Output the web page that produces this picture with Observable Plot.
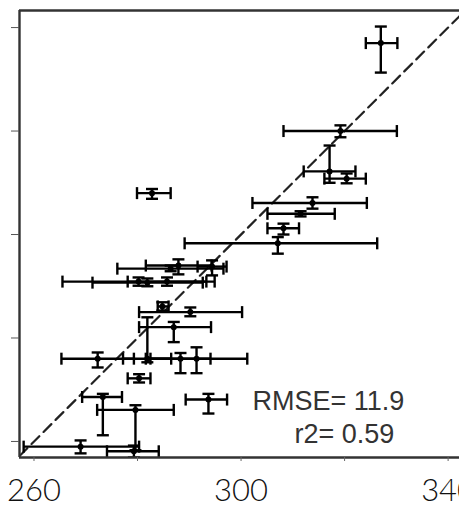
<!DOCTYPE html>
<html><head><meta charset="utf-8">
<script src="https://cdn.jsdelivr.net/npm/d3@7"></script>
<script src="https://cdn.jsdelivr.net/npm/@observablehq/plot@0.6"></script>
<style>html,body{margin:0;padding:0;background:#fff;overflow:hidden}</style>
</head><body><div id="chart"></div>
<script>
// observed (x) with range, modelled (y) with range
const xVal = [327.0,319.2,317.1,320.4,313.8,311.5,308.2,307.1,282.8,287.9,294.4,286.4,280.2,281.9,285.7,284.8,290.2,287.0,272.3,281.9,288.3,291.4,280.3,273.3,279.6,293.7,269.0,279.3];
const xLo  = [324.1,308.2,312.1,316.1,302.2,305.1,305.1,289.1,279.9,281.6,291.6,276.1,265.5,271.3,278.1,283.9,280.3,280.3,265.3,277.2,282.5,281.6,278.1,269.3,272.2,289.3,258.0,274.1];
const xHi  = [330.2,330.1,322.1,324.1,324.3,318.1,311.2,326.3,286.4,294.3,297.2,296.6,294.9,292.6,293.3,286.0,300.2,294.2,279.3,286.5,294.1,301.2,282.5,277.0,287.0,297.3,280.3,284.1];
const yVal = [337.0,320.0,312.2,310.8,306.1,304.0,301.2,298.3,308.0,294.0,293.8,293.4,290.9,290.7,290.9,286.1,285.0,282.1,276.0,276.0,276.0,276.0,272.2,268.6,266.1,268.1,259.0,258.1];
const yLo  = [331.3,318.8,310.0,309.9,305.0,303.5,300.0,296.3,306.9,292.3,292.1,292.9,290.1,290.0,290.1,285.3,284.2,279.2,274.3,275.3,273.2,273.2,271.4,261.2,258.3,265.4,257.7,256.9];
const yHi  = [340.2,321.1,317.2,311.8,307.2,304.5,302.1,299.5,308.8,295.2,295.0,294.0,291.7,291.5,291.7,286.9,285.9,283.1,277.2,284.0,277.1,278.2,273.0,269.2,267.0,269.2,260.2,259.2];

const xTicks = [260, 280, 300, 320, 340];
const xLabels = [260, 300, 340];
const yTicks = [260, 280, 300, 320, 340];
const stats = ["RMSE= 11.9", "r2= 0.59"];
const xDomain = [257.2, 342.2];
const yDomain = [256.9, 343.3];

const data = xVal.map((x, i) => ({x, xlo: xLo[i], xhi: xHi[i], y: yVal[i], ylo: yLo[i], yhi: yHi[i]}));
const identity = xDomain.map(v => [v, v]);

const vCap = {draw(ctx) { ctx.moveTo(0, -6); ctx.lineTo(0, 6); }};
const hCap = {draw(ctx) { ctx.moveTo(-6, 0); ctx.lineTo(6, 0); }};
const ink = "#000";
const sw = 2.4;

const chart = Plot.plot({
  width: 459,
  height: 507,
  marginLeft: 19,
  marginRight: 0,
  marginTop: 10,
  marginBottom: 50,
  style: {background: "#fff"},
  x: {domain: xDomain},
  y: {domain: yDomain},
  marks: [
    Plot.line(identity, {stroke: "#222", strokeWidth: 2.2, strokeDasharray: "11,6", clip: true}),
    Plot.link(data, {x1: "xlo", x2: "xhi", y1: "y", y2: "y", stroke: ink, strokeWidth: sw, clip: true}),
    Plot.link(data, {x1: "x", x2: "x", y1: "ylo", y2: "yhi", stroke: ink, strokeWidth: sw, clip: true}),
    Plot.dot(data, {x: "xlo", y: "y", symbol: vCap, fill: "none", stroke: ink, strokeWidth: sw, clip: true}),
    Plot.dot(data, {x: "xhi", y: "y", symbol: vCap, fill: "none", stroke: ink, strokeWidth: sw, clip: true}),
    Plot.dot(data, {x: "x", y: "ylo", symbol: hCap, fill: "none", stroke: ink, strokeWidth: sw, clip: true}),
    Plot.dot(data, {x: "x", y: "yhi", symbol: hCap, fill: "none", stroke: ink, strokeWidth: sw, clip: true}),
    Plot.dot(data, {x: "x", y: "y", r: 3, fill: ink, stroke: "none"}),
    Plot.ruleX([xDomain[0]], {stroke: "#333", strokeWidth: 2.4}),
    Plot.ruleY([yDomain[1]], {stroke: "#333", strokeWidth: 2.4}),
    Plot.ruleY([yDomain[0]], {stroke: "#333", strokeWidth: 2.4}),
    Plot.axisX({ticks: xTicks, tickSize: 4, tickFormat: () => "", stroke: "#666"}),
    Plot.axisX({ticks: xLabels, tickSize: 0, tickPadding: 21, tickFormat: d => String(d), fontSize: 31, fontFamily: "Lato, 'Open Sans', sans-serif", fontWeight: 300, fill: "#111"}),
    Plot.axisY({ticks: yTicks, tickSize: 8, tickFormat: () => "", stroke: "#555"}),
    Plot.text([stats[0]], {frameAnchor: "bottom", textAnchor: "start", lineAnchor: "middle", dx: 13, dy: -56.6, fontSize: 27, fontFamily: "'Liberation Sans', Arial, sans-serif", fill: "#333"}),
    Plot.text([stats[1]], {frameAnchor: "bottom", textAnchor: "start", lineAnchor: "middle", dx: 55, dy: -23.6, fontSize: 27, fontFamily: "'Liberation Sans', Arial, sans-serif", fill: "#333"})
  ]
});
document.getElementById("chart").appendChild(chart);
</script>
</body></html>
